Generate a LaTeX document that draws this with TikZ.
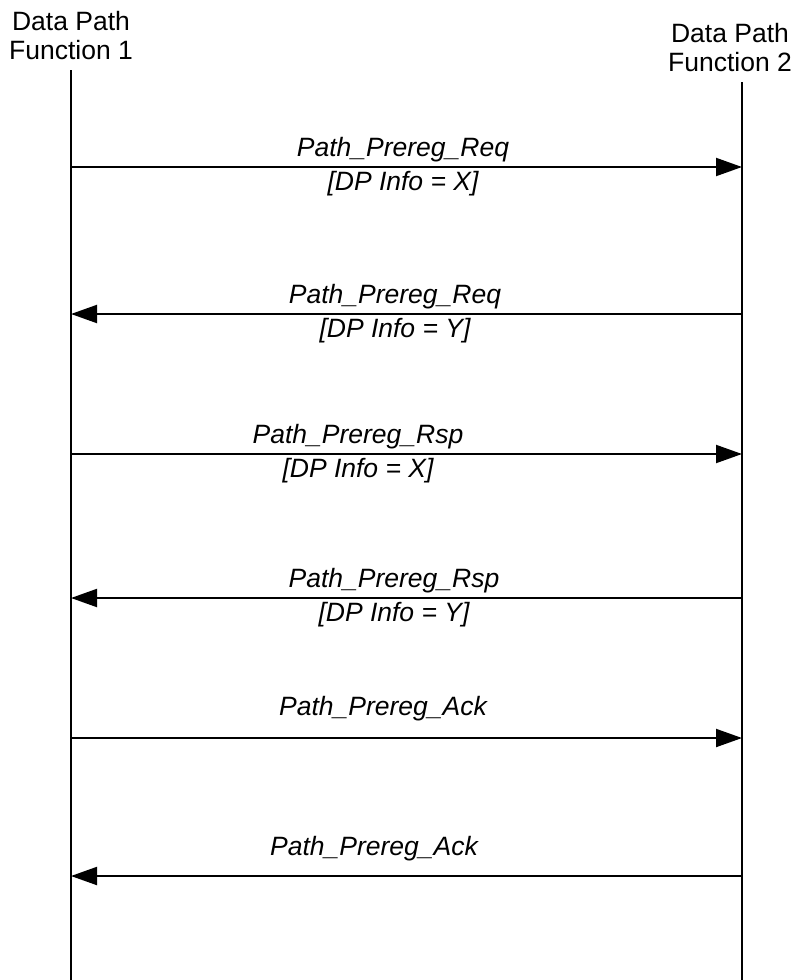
\documentclass[tikz,border=0pt]{standalone}
\usepackage{fontspec}
\setmainfont{Liberation Sans}
\usetikzlibrary{arrows.meta,positioning,calc}
\tikzset{
    life/.style = {line width=2pt, draw=black},
    msg/.style  = {-{Triangle[length=26pt,width=18pt]}, line width=2pt, draw=black},
    head/.style = {align=center, inner xsep=0pt, inner ysep=10pt, anchor=south, font=\fontsize{26.5}{29}\selectfont},
    lbl/.style  = {align=center, inner sep=0pt, font=\fontsize{26.5}{34}\selectfont\itshape}
}
\begin{document}
\begin{tikzpicture}[x=1pt, y=-1pt]
    \useasboundingbox (0,0) rectangle (793,980);
    % the two data path functions
    \node[head] (h1) at (71,70)  {Data Path\\Function 1};
    \node[head] (h2) at (730,82) {Data Path\\Function 2};
    \coordinate (e1) at (71,980);
    \coordinate (e2) at (742,980);
    \draw[life] (e1 |- h1.south) -- (e1);
    \draw[life] (e2 |- h2.south) -- (e2);
    % messages
    \node[lbl] (m1) at (403,167) {Path\_Prereg\_Req\\{[DP Info = X]}};
    \draw[msg] (e1 |- m1) -- (e2 |- m1);
    \node[lbl] (m2) at (395,314) {Path\_Prereg\_Req\\{[DP Info = Y]}};
    \draw[msg] (e2 |- m2) -- (e1 |- m2);
    \node[lbl] (m3) at (358,454) {Path\_Prereg\_Rsp\\{[DP Info = X]}};
    \draw[msg] (e1 |- m3) -- (e2 |- m3);
    \node[lbl] (m4) at (394,598) {Path\_Prereg\_Rsp\\{[DP Info = Y]}};
    \draw[msg] (e2 |- m4) -- (e1 |- m4);
    \node[lbl, anchor=base] (m5) at (383,715) {Path\_Prereg\_Ack};
    \coordinate (r5) at (0,738);
    \draw[msg] (e1 |- r5) -- (e2 |- r5);
    \node[lbl, anchor=base] (m6) at (374,855) {Path\_Prereg\_Ack};
    \coordinate (r6) at (0,876);
    \draw[msg] (e2 |- r6) -- (e1 |- r6);
\end{tikzpicture}
\end{document}
